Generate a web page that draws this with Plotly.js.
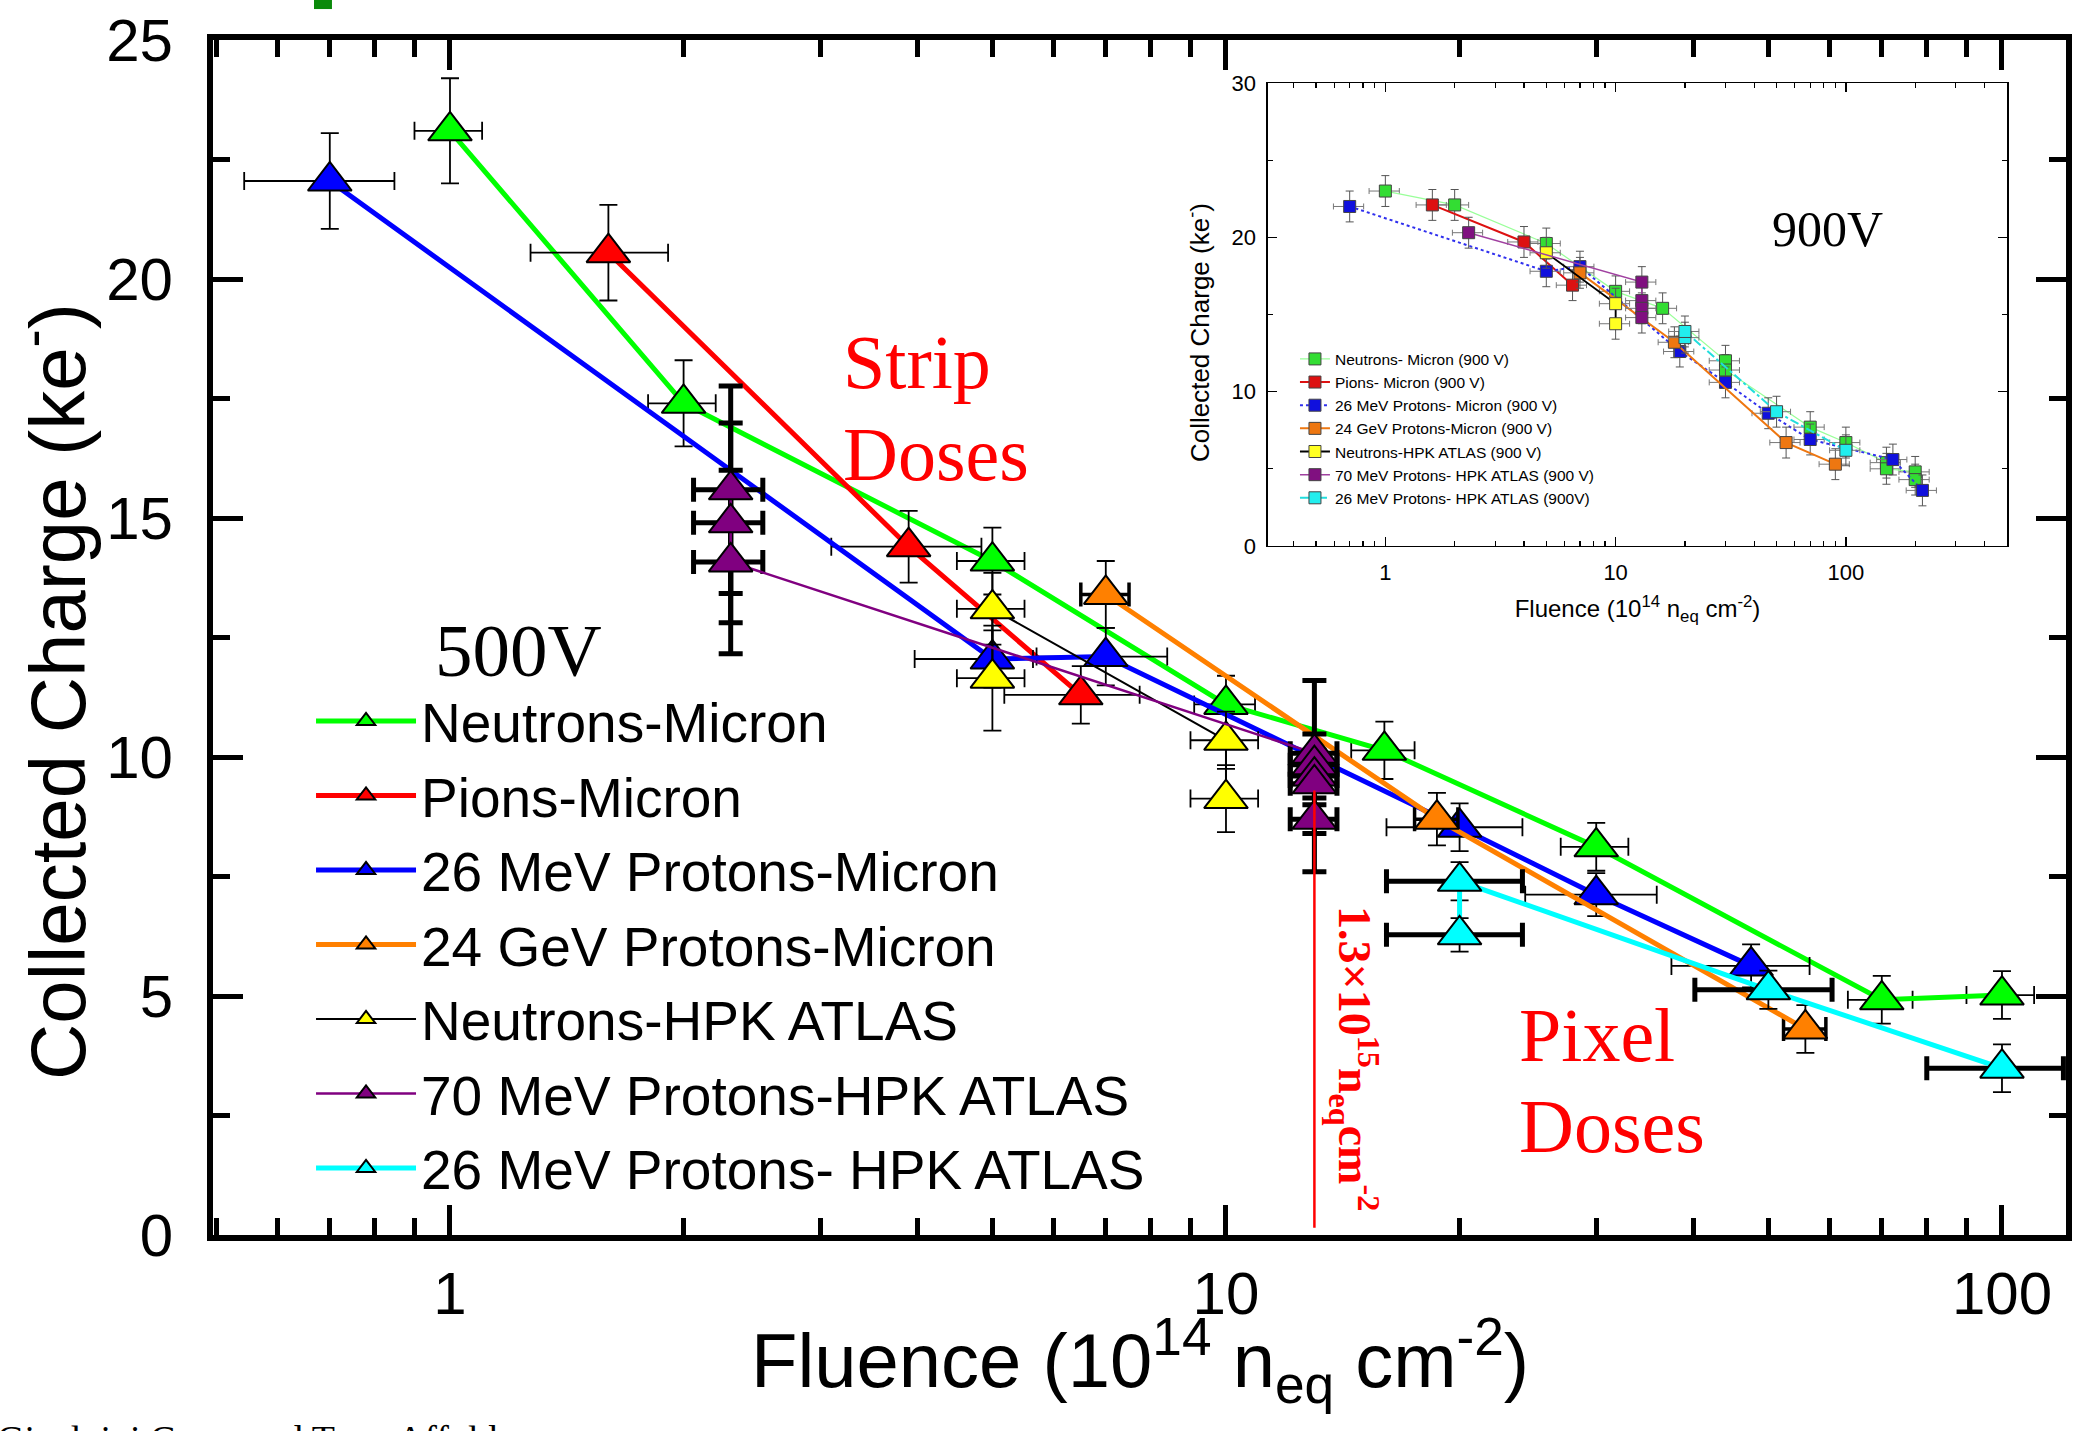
<!DOCTYPE html>
<html><head><meta charset="utf-8">
<script src="https://cdn.plot.ly/plotly-3.0.1.min.js"></script>
<style>html,body{margin:0;padding:0;background:#fff}#chart{width:2087px;height:1431px}</style>
</head><body><div id="chart"></div>
<script>
// ---------- Main chart (500V) ----------
const seriesNames = ["Neutrons-Micron","Pions-Micron","26 MeV Protons-Micron","24 GeV Protons-Micron","Neutrons-HPK ATLAS","70 MeV Protons-HPK ATLAS","26 MeV Protons- HPK ATLAS"];

const nmX  = [1, 2, 5, 10, 16, 30, 70, 100];
const nmY  = [23.1, 17.4, 14.1, 11.1, 10.14, 8.12, 4.92, 5.02];
const nmEY = [1.1, 0.9, 0.7, 0.6, 0.6, 0.5, 0.5, 0.5];
const nmEX = [0.1, 0.2, 0.5, 0.9, 1.5, 3, 6.7, 10];

const piX  = [1.6, 3.9, 6.5];
const piY  = [20.55, 14.4, 11.3];
const piEY = [1.0, 0.75, 0.6];
const piEXp = [0.31, 0.94, 1.24];
const piEXm = [0.33, 0.8, 1.32];

const p26X  = [0.7, 5, 7, 20, 30, 47.5];
const p26Y  = [22.05, 12.05, 12.1, 8.53, 7.12, 5.63];
const p26EY = [1.0, 0.6, 0.6, 0.5, 0.45, 0.45];
const p26EXp = [0.148, 0.64, 1.4, 4.1, 5.9, 9];
const p26EXm = [0.157, 1.03, 1.3, 3.9, 5.7, 10];

const p24X  = [7, 18.7, 55.8];
const p24Y  = [13.4, 8.7, 4.31];
const p24EY = [0.7, 0.55, 0.5];
const p24EX = [0.5, 1.2, 3.5];

const nhX  = [5, 5, 10, 10];
const nhY  = [11.65, 13.1, 10.35, 9.13];
const nhEY = [1.1, 0.75, 0.6, 0.7];
const nhEX = [0.5, 0.5, 1.0, 1.0];

const p70X  = [2.3, 2.3, 2.3, 13, 13, 13, 13, 13];
const p70Y  = [15.59, 14.9, 14.08, 10.08, 9.84, 9.6, 9.44, 8.7];
const p70EY = [2.17, 2.09, 1.92, 0.4, 0.3, 2.0, 0.3, 0.3];
const p70EXp = [0.23, 0.23, 0.23, 0.9, 0.9, 0.9, 0.9, 0.9];
const p70EXm = [0.24, 0.24, 0.24, 0.9, 0.9, 0.9, 0.9, 0.9];

const ph26X  = [20, 20, 50, 100];
const ph26Y  = [6.28, 7.4, 5.13, 3.49];
const ph26EY = [0.35, 0.4, 0.4, 0.5];
const ph26EXp = [4.1, 4.1, 10.4, 20];
const ph26EXm = [3.9, 3.9, 9.8, 20];

// reference line at 1.3e15 n_eq cm^-2
const refX = [13, 13];
const refY = [9.3, 0.15];

// ---------- Inset chart (900V) ----------
const insetNames = ["Neutrons- Micron (900 V)","Pions- Micron (900 V)","26 MeV Protons- Micron (900 V)","24 GeV Protons-Micron (900 V)","Neutrons-HPK ATLAS (900 V)","70 MeV Protons- HPK ATLAS (900 V)","26 MeV Protons- HPK ATLAS (900V)"];
const iNmX = [1, 2, 5, 10, 16, 30, 30, 70, 100, 150, 150, 200, 200];
const iNmY = [23.0, 22.1, 19.6, 16.5, 15.4, 12.0, 11.4, 7.7, 6.7, 5.4, 5.0, 4.8, 4.3];
const iPiX = [1.6, 4, 6.5];
const iPiY = [22.1, 19.7, 16.9];
const iP26X = [0.7, 5, 7, 19, 30, 46, 70, 160, 215];
const iP26Y = [22.0, 17.8, 18.1, 12.6, 10.6, 8.6, 6.9, 5.6, 3.6];
const iP24X = [7, 18, 55, 90];
const iP24Y = [17.7, 13.2, 6.7, 5.3];
const iNhX = [5, 10, 10];
const iNhY = [19.0, 15.7, 14.4];
const iP70X = [2.3, 13, 13, 13, 13];
const iP70Y = [20.3, 17.1, 15.9, 15.4, 14.8];
const iPh26X = [20, 20, 50, 100];
const iPh26Y = [13.5, 13.9, 8.7, 6.2];
const iEY = 1.0;

// ---------- styling ----------
const mainColors = ["#00ff00","#ff0000","#0000ff","#ff8000","#ffff00","#800080","#00ffff"];
const lineColors = ["#00ff00","#ff0000","#0000ff","#ff8000","#000000","#800080","#00ffff"];
const lineWidths = [5, 5, 5, 5, 2, 2.5, 5];

function mainTrace(i, x, y, ey, exp, exm, thickX, thickY) {
  return {
    type: 'scatter', mode: 'lines+markers', name: seriesNames[i],
    x: x, y: y, xaxis: 'x', yaxis: 'y', legend: 'legend',
    line: {color: lineColors[i], width: lineWidths[i]},
    marker: {symbol: 'triangle-up', size: 38, color: mainColors[i], line: {color: '#000', width: 2}},
    error_y: {type: 'data', array: ey, visible: true, color: '#000', thickness: thickY || 1.8, width: thickY ? 12 : 9},
    error_x: {type: 'data', array: exp, arrayminus: exm, symmetric: false, visible: true, color: '#000', thickness: thickX || 1.8, width: thickX ? 12 : 9}
  };
}

const traces = [
  mainTrace(0, nmX, nmY, nmEY, nmEX, nmEX),
  mainTrace(1, piX, piY, piEY, piEXp, piEXm),
  mainTrace(2, p26X, p26Y, p26EY, p26EXp, p26EXm),
  mainTrace(3, p24X, p24Y, p24EY, p24EX, p24EX, 3.5),
  mainTrace(4, nhX, nhY, nhEY, nhEX, nhEX),
  mainTrace(5, p70X, p70Y, p70EY, p70EXp, p70EXm, 5, 5),
  mainTrace(6, ph26X, ph26Y, ph26EY, ph26EXp, ph26EXm, 5),
  {type: 'scatter', mode: 'lines', x: refX, y: refY, xaxis: 'x', yaxis: 'y', showlegend: false,
   line: {color: '#ff0000', width: 2.5}, hoverinfo: 'skip'}
];

const insetMarker = ["#33dd33","#dd1111","#1010dd","#ee7711","#ffff22","#801080","#22eeee"];
const insetLine   = ["#99ff99","#dd1111","#3030ee","#ee7711","#000000","#a040a0","#22dddd"];
const insetDash   = ["solid","solid","dot","solid","solid","solid","dashdot"];
const insetWidth  = [1.2, 2, 2, 2, 1.8, 1.5, 2];
const insetData = [[iNmX,iNmY],[iPiX,iPiY],[iP26X,iP26Y],[iP24X,iP24Y],[iNhX,iNhY],[iP70X,iP70Y],[iPh26X,iPh26Y]];
insetData.forEach(function(d, i) {
  traces.push({
    type: 'scatter', mode: 'lines+markers', name: insetNames[i],
    x: d[0], y: d[1], xaxis: 'x2', yaxis: 'y2', legend: 'legend2',
    line: {color: insetLine[i], width: insetWidth[i], dash: insetDash[i]},
    marker: {symbol: 'square', size: 12, color: insetMarker[i], line: {color: '#444', width: 1}},
    error_y: {type: 'constant', value: iEY, visible: true, color: '#555', thickness: 1, width: 4},
    error_x: {type: 'percent', value: 15, visible: true, color: '#777', thickness: 1, width: 3}
  });
});

const AX_FONT = {family: 'Liberation Sans, Arial, sans-serif', color: '#000'};
function f(size, extra) { return Object.assign({}, AX_FONT, {size: size}, extra || {}); }
const SERIF = 'Liberation Serif, Times New Roman, serif';

const layout = {
  width: 2087, height: 1431,
  margin: {l: 213, r: 21, t: 40, b: 196},
  paper_bgcolor: '#fff', plot_bgcolor: '#fff',
  showlegend: true,
  xaxis: {
    type: 'log', range: [-0.3054, 2.0825], domain: [0, 1], anchor: 'y',
    showline: true, linewidth: 6, linecolor: '#000', mirror: 'allticks',
    ticks: 'inside', ticklen: 30, tickwidth: 5, tickcolor: '#000',
    tickmode: 'linear', tick0: 0, dtick: 1,
    minor: {ticks: 'inside', ticklen: 17, tickwidth: 5, tickcolor: '#000', dtick: 'D1', showgrid: false},
    showgrid: false, zeroline: false, ticklabelstandoff: 1,
    tickfont: f(60)
  },
  yaxis: {
    range: [0, 25], domain: [0, 1], anchor: 'x',
    showline: true, linewidth: 6, linecolor: '#000', mirror: 'allticks',
    ticks: 'inside', ticklen: 30, tickwidth: 5, tickcolor: '#000', dtick: 5,
    minor: {ticks: 'inside', ticklen: 17, tickwidth: 5, tickcolor: '#000', dtick: 2.5, showgrid: false},
    showgrid: false, zeroline: false, ticklabelstandoff: 22,
    tickfont: f(60)
  },
  xaxis2: {
    type: 'log', range: [-0.51, 2.70], domain: [0.5693, 0.9682], anchor: 'y2',
    showline: true, linewidth: 1.5, linecolor: '#000', mirror: 'allticks',
    ticks: 'inside', ticklen: 9, tickwidth: 1.5, tickcolor: '#000',
    tickmode: 'linear', tick0: 0, dtick: 1,
    minor: {ticks: 'inside', ticklen: 5, tickwidth: 1.2, tickcolor: '#000', dtick: 'D1', showgrid: false},
    showgrid: false, zeroline: false, ticklabelstandoff: 6,
    tickfont: f(22),
    title: {text: 'Fluence (10<sup>14</sup> n<sub>eq</sub> cm<sup>-2</sup>)', font: f(24), standoff: 16}
  },
  yaxis2: {
    range: [0, 30], domain: [0.5766, 0.9640], anchor: 'x2',
    showline: true, linewidth: 1.5, linecolor: '#000', mirror: 'allticks',
    ticks: 'inside', ticklen: 9, tickwidth: 1.5, tickcolor: '#000', dtick: 10,
    minor: {ticks: 'inside', ticklen: 5, tickwidth: 1.2, tickcolor: '#000', dtick: 5, showgrid: false},
    showgrid: false, zeroline: false, ticklabelstandoff: 6,
    tickfont: f(22)
  },
  legend: {
    x: 0.0529, y: 0.4655, xanchor: 'left', yanchor: 'top',
    font: f(55), bgcolor: 'rgba(0,0,0,0)', borderwidth: 0,
    itemwidth: 100, tracegroupgap: 0, traceorder: 'normal'
  },
  legend2: {
    x: 0.5839, y: 0.7470, xanchor: 'left', yanchor: 'top',
    font: f(15.5), bgcolor: 'rgba(0,0,0,0)', borderwidth: 0,
    tracegroupgap: 0, traceorder: 'normal'
  },
  annotations: [
    {xref: 'paper', yref: 'paper', x: -0.0863, y: 0.4544, xanchor: 'center', yanchor: 'middle', showarrow: false,
     textangle: -90, text: 'Collected Charge (ke<sup>-</sup>)', font: f(78)},
    {xref: 'paper', yref: 'paper', x: 0.5, y: -0.1054, xanchor: 'center', yanchor: 'middle', showarrow: false,
     text: 'Fluence (10<sup>14</sup> n<sub>eq</sub> cm<sup>-2</sup>)', font: f(76)},
    {xref: 'paper', yref: 'paper', x: 0.5316, y: 0.7548, xanchor: 'center', yanchor: 'middle', showarrow: false,
     textangle: -90, text: 'Collected Charge (ke<sup>-</sup>)', font: f(26)},
    {xref: 'paper', yref: 'paper', x: 0.3389, y: 0.7305, xanchor: 'left', yanchor: 'middle', showarrow: false,
     text: 'Strip', font: {family: SERIF, size: 76, color: '#ff0000'}},
    {xref: 'paper', yref: 'paper', x: 0.3389, y: 0.6536, xanchor: 'left', yanchor: 'middle', showarrow: false,
     text: 'Doses', font: {family: SERIF, size: 76, color: '#ff0000'}},
    {xref: 'paper', yref: 'paper', x: 0.7037, y: 0.1674, xanchor: 'left', yanchor: 'middle', showarrow: false,
     text: 'Pixel', font: {family: SERIF, size: 76, color: '#ff0000'}},
    {xref: 'paper', yref: 'paper', x: 0.7037, y: 0.0912, xanchor: 'left', yanchor: 'middle', showarrow: false,
     text: 'Doses', font: {family: SERIF, size: 76, color: '#ff0000'}},
    {xref: 'paper', yref: 'paper', x: 0.1187, y: 0.4895, xanchor: 'left', yanchor: 'middle', showarrow: false,
     text: '500V', font: {family: SERIF, size: 75, color: '#000'}},
    {xref: 'paper', yref: 'paper', x: 0.8403, y: 0.8418, xanchor: 'left', yanchor: 'middle', showarrow: false,
     text: '900V', font: {family: SERIF, size: 50, color: '#000'}},
    {xref: 'paper', yref: 'paper', x: 0.6163, y: 0.1481, xanchor: 'center', yanchor: 'middle', showarrow: false,
     textangle: 90,
     text: '<b>1.3×10<sup>15</sup>n<sub>eq</sub>cm<sup>-2</sup></b>',
     font: {family: SERIF, size: 46, color: '#ff0000'}},
    {xref: 'paper', yref: 'paper', x: -0.1177, y: -0.1515, xanchor: 'left', yanchor: 'top', showarrow: false,
     text: 'Gianluigi Casse and Tony Affolder',
     font: {family: SERIF, size: 38, color: '#000'}}
  ],
  shapes: [
    {type: 'rect', xref: 'paper', yref: 'paper', x0: 0.0545, x1: 0.0642, y0: 1.0259, y1: 1.0335,
     fillcolor: '#0a8a0a', line: {width: 0}}
  ]
};

Plotly.newPlot('chart', traces, layout, {displayModeBar: false, staticPlot: true});
</script></body></html>
